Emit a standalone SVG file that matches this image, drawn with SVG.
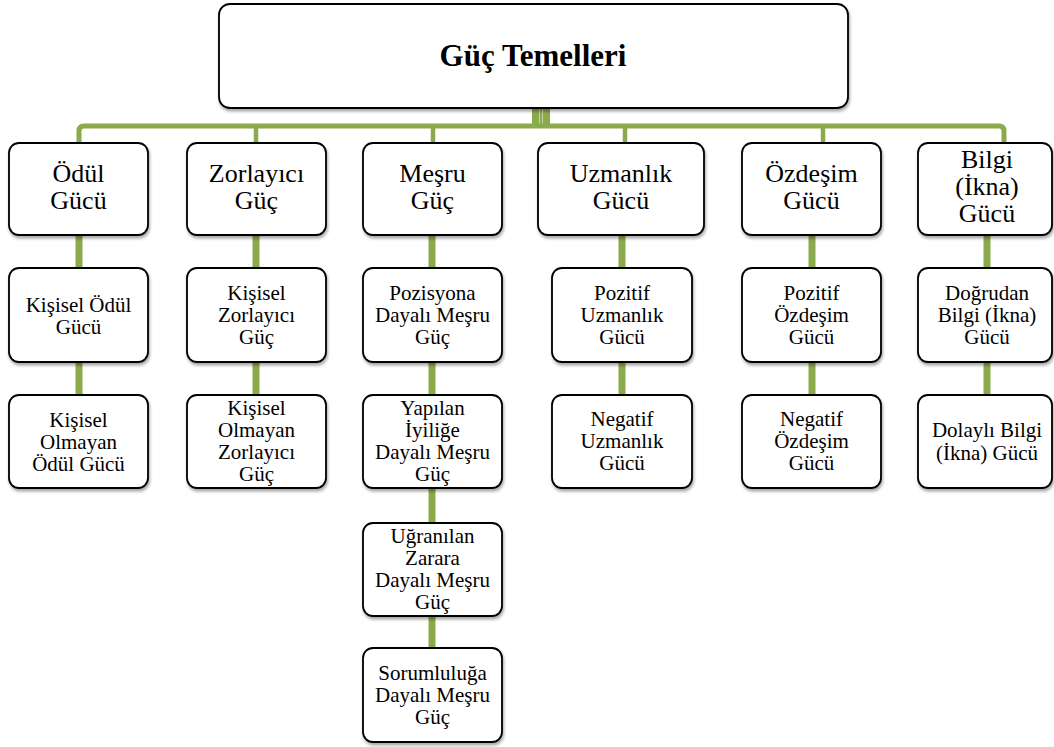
<svg xmlns="http://www.w3.org/2000/svg" width="1054" height="747" viewBox="0 0 1054 747" font-family="Liberation Serif, DejaVu Serif, serif">
  <defs>
    <filter id="sh" x="-10%" y="-10%" width="130%" height="130%">
      <feDropShadow dx="1" dy="2.5" stdDeviation="1.6" flood-color="#000" flood-opacity="0.35"/>
    </filter>
    <style>
      .box { fill: #ffffff; stroke: #000000; stroke-width: 1.8; filter: url(#sh); }
      text { fill: #000; text-anchor: middle; }
      .t1 { font-size: 26px; }
      .t2 { font-size: 21px; }
      .title { font-size: 31px; font-weight: bold; }
      .bus { fill: none; stroke: #8BAA4B; stroke-width: 5; }
      .drop { stroke: #8BAA4B; stroke-width: 4.5; }
      .link { stroke: #8BAA4B; stroke-width: 7; }
    </style>
  </defs>
  <rect width="1054" height="747" fill="#ffffff"/>

  <g id="connectors">
    <rect x="532" y="106" width="18" height="22" fill="#8BAA4B"/>
    <line x1="539.5" y1="108" x2="539.5" y2="124" stroke="#c4d6a0" stroke-width="1"/>
    <line x1="542.5" y1="108" x2="542.5" y2="124" stroke="#c4d6a0" stroke-width="1"/>
    <path class="bus" d="M79,143 V131 Q79,126 84,126 H999 Q1004,126 1004,131 V143"/>
    <line class="drop" x1="256" y1="126" x2="256" y2="143"/>
    <line class="drop" x1="433" y1="126" x2="433" y2="143"/>
    <line class="drop" x1="625" y1="126" x2="625" y2="143"/>
    <line class="drop" x1="823" y1="126" x2="823" y2="143"/>
    <line class="link" x1="79" y1="235" x2="79" y2="268"/>
    <line class="link" x1="79" y1="362" x2="79" y2="395"/>
    <line class="link" x1="256" y1="235" x2="256" y2="268"/>
    <line class="link" x1="256" y1="362" x2="256" y2="395"/>
    <line class="link" x1="432" y1="235" x2="432" y2="268"/>
    <line class="link" x1="432" y1="362" x2="432" y2="395"/>
    <line class="link" x1="432" y1="488" x2="432" y2="523"/>
    <line class="link" x1="432" y1="616" x2="432" y2="648"/>
    <line class="link" x1="622" y1="235" x2="622" y2="268"/>
    <line class="link" x1="622" y1="362" x2="622" y2="395"/>
    <line class="link" x1="812" y1="235" x2="812" y2="268"/>
    <line class="link" x1="812" y1="362" x2="812" y2="395"/>
    <line class="link" x1="987" y1="235" x2="987" y2="268"/>
    <line class="link" x1="987" y1="362" x2="987" y2="395"/>
  </g>

  <g id="root">
    <rect class="box" x="219" y="4" width="629" height="104" rx="11"/>
    <text class="title" x="533" y="66" font-family="Liberation Serif, serif">Güç Temelleri</text>
  </g>

  <!-- Level 1 -->
  <g id="odul" font-family="Liberation Serif, serif">
    <rect class="box" x="9" y="143" width="139" height="92" rx="10"/>
    <text class="t1" x="78.5" y="182">Ödül</text>
    <text class="t1" x="78.5" y="208.5">Gücü</text>
  </g>
  <g id="zorlayici" font-family="Liberation Serif, serif">
    <rect class="box" x="187" y="143" width="139" height="92" rx="10"/>
    <text class="t1" x="256.5" y="182">Zorlayıcı</text>
    <text class="t1" x="256.5" y="208.5">Güç</text>
  </g>
  <g id="mesru" font-family="Liberation Serif, serif">
    <rect class="box" x="363" y="143" width="139" height="92" rx="10"/>
    <text class="t1" x="432.5" y="182">Meşru</text>
    <text class="t1" x="432.5" y="208.5">Güç</text>
  </g>
  <g id="uzmanlik" font-family="Liberation Serif, serif">
    <rect class="box" x="538" y="143" width="166" height="92" rx="10"/>
    <text class="t1" x="621" y="182">Uzmanlık</text>
    <text class="t1" x="621" y="208.5">Gücü</text>
  </g>
  <g id="ozdesim" font-family="Liberation Serif, serif">
    <rect class="box" x="742" y="143" width="139" height="92" rx="10"/>
    <text class="t1" x="811.5" y="182">Özdeşim</text>
    <text class="t1" x="811.5" y="208.5">Gücü</text>
  </g>
  <g id="bilgi" font-family="Liberation Serif, serif">
    <rect class="box" x="918" y="143" width="134" height="92" rx="10"/>
    <text class="t1" x="987" y="168">Bilgi</text>
    <text class="t1" x="987" y="195">(İkna)</text>
    <text class="t1" x="987" y="222">Gücü</text>
  </g>

  <!-- Level 2 -->
  <g id="kisisel-odul" font-family="Liberation Serif, serif">
    <rect class="box" x="9" y="268" width="139" height="94" rx="10"/>
    <text class="t2" x="78.5" y="312">Kişisel Ödül</text>
    <text class="t2" x="78.5" y="334">Gücü</text>
  </g>
  <g id="kisisel-zorlayici" font-family="Liberation Serif, serif">
    <rect class="box" x="187" y="268" width="139" height="94" rx="10"/>
    <text class="t2" x="256.5" y="300">Kişisel</text>
    <text class="t2" x="256.5" y="322">Zorlayıcı</text>
    <text class="t2" x="256.5" y="344">Güç</text>
  </g>
  <g id="pozisyona" font-family="Liberation Serif, serif">
    <rect class="box" x="363" y="268" width="139" height="94" rx="10"/>
    <text class="t2" x="432.5" y="300">Pozisyona</text>
    <text class="t2" x="432.5" y="322">Dayalı Meşru</text>
    <text class="t2" x="432.5" y="344">Güç</text>
  </g>
  <g id="pozitif-uzmanlik" font-family="Liberation Serif, serif">
    <rect class="box" x="552" y="268" width="140" height="94" rx="10"/>
    <text class="t2" x="622" y="300">Pozitif</text>
    <text class="t2" x="622" y="322">Uzmanlık</text>
    <text class="t2" x="622" y="344">Gücü</text>
  </g>
  <g id="pozitif-ozdesim" font-family="Liberation Serif, serif">
    <rect class="box" x="742" y="268" width="139" height="94" rx="10"/>
    <text class="t2" x="811.5" y="300">Pozitif</text>
    <text class="t2" x="811.5" y="322">Özdeşim</text>
    <text class="t2" x="811.5" y="344">Gücü</text>
  </g>
  <g id="dogrudan" font-family="Liberation Serif, serif">
    <rect class="box" x="918" y="268" width="134" height="94" rx="10"/>
    <text class="t2" x="987" y="300">Doğrudan</text>
    <text class="t2" x="987" y="322">Bilgi (İkna)</text>
    <text class="t2" x="987" y="344">Gücü</text>
  </g>

  <!-- Level 3 -->
  <g id="kisisel-olmayan-odul" font-family="Liberation Serif, serif">
    <rect class="box" x="9" y="395" width="139" height="93" rx="10"/>
    <text class="t2" x="78.5" y="426.5">Kişisel</text>
    <text class="t2" x="78.5" y="448.5">Olmayan</text>
    <text class="t2" x="78.5" y="470.5">Ödül Gücü</text>
  </g>
  <g id="kisisel-olmayan-zorlayici" font-family="Liberation Serif, serif">
    <rect class="box" x="187" y="395" width="139" height="93" rx="10"/>
    <text class="t2" x="256.5" y="415">Kişisel</text>
    <text class="t2" x="256.5" y="437">Olmayan</text>
    <text class="t2" x="256.5" y="459">Zorlayıcı</text>
    <text class="t2" x="256.5" y="481">Güç</text>
  </g>
  <g id="yapilan-iyilige" font-family="Liberation Serif, serif">
    <rect class="box" x="363" y="395" width="139" height="93" rx="10"/>
    <text class="t2" x="432.5" y="415">Yapılan</text>
    <text class="t2" x="432.5" y="437">İyiliğe</text>
    <text class="t2" x="432.5" y="459">Dayalı Meşru</text>
    <text class="t2" x="432.5" y="481">Güç</text>
  </g>
  <g id="negatif-uzmanlik" font-family="Liberation Serif, serif">
    <rect class="box" x="552" y="395" width="140" height="93" rx="10"/>
    <text class="t2" x="622" y="426">Negatif</text>
    <text class="t2" x="622" y="448">Uzmanlık</text>
    <text class="t2" x="622" y="470">Gücü</text>
  </g>
  <g id="negatif-ozdesim" font-family="Liberation Serif, serif">
    <rect class="box" x="742" y="395" width="139" height="93" rx="10"/>
    <text class="t2" x="811.5" y="426">Negatif</text>
    <text class="t2" x="811.5" y="448">Özdeşim</text>
    <text class="t2" x="811.5" y="470">Gücü</text>
  </g>
  <g id="dolayli" font-family="Liberation Serif, serif">
    <rect class="box" x="918" y="395" width="134" height="93" rx="10"/>
    <text class="t2" x="987" y="437">Dolaylı Bilgi</text>
    <text class="t2" x="987" y="460">(İkna) Gücü</text>
  </g>

  <!-- Level 4 and 5 -->
  <g id="ugranilan-zarara" font-family="Liberation Serif, serif">
    <rect class="box" x="363" y="523" width="139" height="93" rx="10"/>
    <text class="t2" x="432.5" y="543">Uğranılan</text>
    <text class="t2" x="432.5" y="565">Zarara</text>
    <text class="t2" x="432.5" y="587">Dayalı Meşru</text>
    <text class="t2" x="432.5" y="609">Güç</text>
  </g>
  <g id="sorumluluga" font-family="Liberation Serif, serif">
    <rect class="box" x="363" y="648" width="139" height="94" rx="10"/>
    <text class="t2" x="432.5" y="680">Sorumluluğa</text>
    <text class="t2" x="432.5" y="702">Dayalı Meşru</text>
    <text class="t2" x="432.5" y="724">Güç</text>
  </g>
</svg>
